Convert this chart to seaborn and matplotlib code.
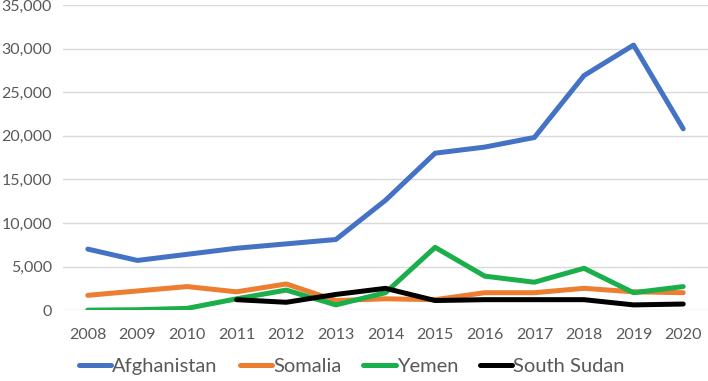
import matplotlib
matplotlib.use('Agg')
import matplotlib.pyplot as plt
import seaborn as sns
import pandas as pd
import numpy as np

years = list(range(2008, 2021))
afghanistan = [7000, 5700, 6400, 7100, 7600, 8100, 12600, 18000, 18700, 19800, 26900, 30400, 20800]
somalia = [1700, 2200, 2700, 2100, 3000, 1100, 1300, 1200, 2000, 2000, 2500, 2100, 2000]
yemen = [0, 50, 200, 1300, 2300, 600, 2000, 7200, 3900, 3200, 4800, 2000, 2700]
south_sudan = [np.nan, np.nan, np.nan, 1200, 900, 1800, 2500, 1100, 1200, 1200, 1200, 600, 700]

countries = ['Afghanistan', 'Somalia', 'Yemen', 'South Sudan']
colors = ['#4472C4', '#ED7D31', '#1AAF4B', '#000000']

df = pd.DataFrame({'Year': years, 'Afghanistan': afghanistan, 'Somalia': somalia,
                   'Yemen': yemen, 'South Sudan': south_sudan})
long = df.melt(id_vars='Year', var_name='Country', value_name='Value').dropna()

sns.set_style('white')
plt.rcParams['font.family'] = ['Lato', 'DejaVu Sans']

fig = plt.figure(figsize=(7.08, 3.81), dpi=100)
ax = fig.add_axes([0.089, 0.186, 0.911, 0.801])
sns.lineplot(data=long, x='Year', y='Value', hue='Country', hue_order=countries,
             palette=dict(zip(countries, colors)), linewidth=3.6, ax=ax)

ax.set_xlim(2007.5, 2020.5)
ax.set_ylim(0, 35000)
ax.set_xticks(years)
ax.set_yticks(range(0, 35001, 5000))
ax.set_yticklabels([f'{v:,}' for v in range(0, 35001, 5000)])
ax.grid(axis='y', color='#D9D9D9', linewidth=1)
ax.set_axisbelow(True)
for s in ax.spines.values():
    s.set_visible(False)
ax.tick_params(axis='both', length=0, labelsize=11.5, colors='#595959')
ax.tick_params(axis='x', pad=13)
ax.tick_params(axis='y', pad=8)
ax.set_xlabel('')
ax.set_ylabel('')

handles, labels = ax.get_legend_handles_labels()
ax.get_legend().remove()
fig.legend(handles, labels, loc='center', bbox_to_anchor=(0.497, 0.038), ncol=4, frameon=False,
           fontsize=14.5, handlelength=1.6, handletextpad=0.05, columnspacing=1.1,
           labelcolor='#595959')

fig.savefig('out.png', dpi=100)
